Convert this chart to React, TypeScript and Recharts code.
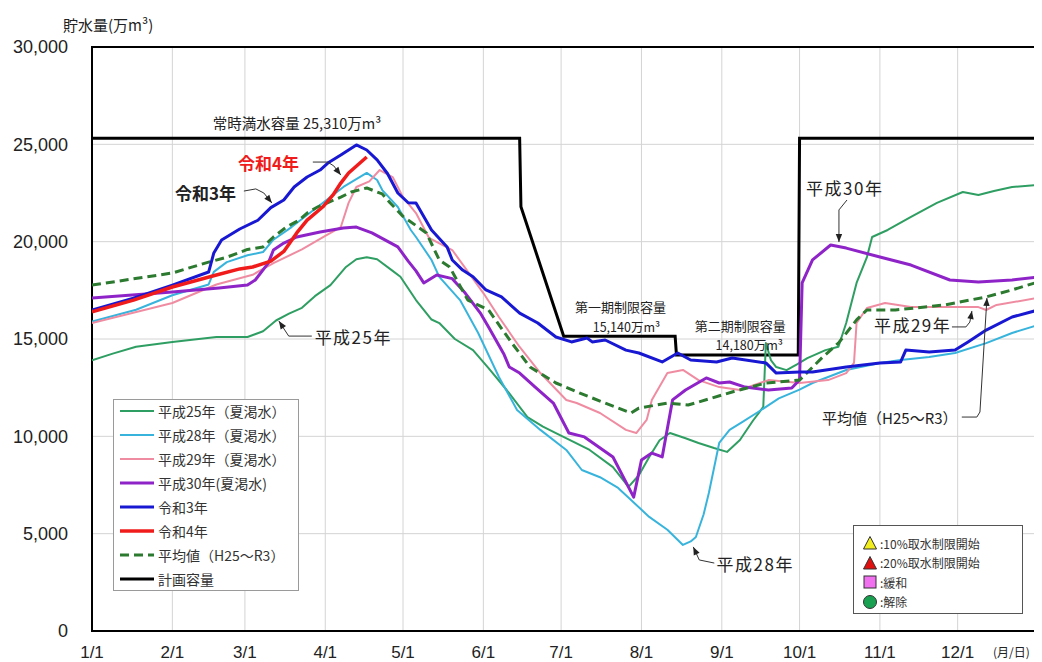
import React from 'react';
import { LineChart, Line, XAxis, YAxis, CartesianGrid, ReferenceArea, ReferenceDot } from 'recharts';

type Pt = [number, number];

// x = day of year (0 = 1/1), y = 貯水量 (万m3)
const monthTicks = [0, 31, 59, 90, 120, 151, 181, 212, 243, 273, 304, 334];
const monthLabels = ['1/1', '2/1', '3/1', '4/1', '5/1', '6/1', '7/1', '8/1', '9/1', '10/1', '11/1', '12/1'];
const valueTicks = [0, 5000, 10000, 15000, 20000, 25000, 30000];

const h25: Pt[] = [
  [0, 13900], [8, 14250], [17, 14600], [31, 14850], [48, 15100], [60, 15100], [66, 15400], [71, 15950],
  [76, 16300], [81, 16600], [86, 17200], [92, 17770], [98, 18700], [102, 19100], [106, 19200], [110, 19100],
  [116, 18500], [119, 18200], [125, 17000], [131, 16000], [134, 15820], [140, 15000], [147, 14430], [153, 13500],
  [160, 12380], [168, 10990], [174, 10500], [179, 10170], [186, 9700], [192, 9300], [201, 8420], [207, 7400],
  [211, 8000], [215, 8940], [219, 9800], [223, 10170], [229, 9900], [234, 9660], [240, 9400], [245, 9200],
  [250, 9810], [255, 10800], [259, 11510], [260, 14790], [262, 13900], [264, 13560], [268, 13400], [272, 13700],
  [276, 14020], [283, 14430], [288, 14600], [291, 15820], [295, 17880], [299, 19210], [301, 20240], [307, 20600],
  [316, 21270], [326, 21990], [336, 22550], [342, 22400], [348, 22600], [355, 22810], [365, 22910],
];

const h28: Pt[] = [
  [0, 15900], [17, 16500], [31, 17250], [45, 17800], [47, 18450], [52, 18950], [60, 19300], [66, 19470],
  [70, 20100], [77, 20750], [87, 21780], [97, 22810], [106, 23530], [110, 23170], [112, 22650], [118, 21780],
  [123, 20600], [125, 20240], [131, 19060], [134, 18190], [142, 17000], [149, 15310], [157, 13050], [164, 11350],
  [173, 10330], [183, 9300], [189, 8270], [196, 7900], [203, 7350], [215, 5860], [222, 5200], [228, 4420],
  [231, 4600], [233, 4830], [236, 6000], [238, 7090], [242, 9660], [246, 10330], [251, 10740], [257, 11250],
  [265, 11950], [273, 12400], [278, 12740], [291, 13410], [304, 13770], [312, 13920], [323, 14080], [333, 14280],
  [345, 14790], [355, 15310], [365, 15720],
];

const h29: Pt[] = [
  [0, 15820], [31, 16850], [48, 17800], [62, 18300], [70, 18900], [81, 19600], [90, 20300], [96, 20750],
  [99, 21990], [102, 22810], [107, 23100], [111, 23680], [116, 23320], [120, 22290], [125, 21470], [130, 20200],
  [139, 19570], [151, 17360], [157, 16130], [165, 14590], [173, 13250], [183, 11870], [187, 11710], [196, 11200],
  [206, 10330], [210, 10170], [214, 10840], [216, 11870], [222, 13250], [228, 13410], [234, 12890], [242, 12530],
  [250, 12380], [261, 12890], [273, 12740], [284, 12890], [291, 13250], [294, 13770], [295, 15820], [299, 16590],
  [306, 16850], [316, 16640], [342, 16640], [345, 16490], [349, 16750], [365, 17110],
];

const h30: Pt[] = [
  [0, 17110], [31, 17420], [49, 17620], [60, 17770], [63, 18030], [68, 18900], [70, 19570], [74, 19930],
  [79, 20240], [88, 20500], [97, 20700], [102, 20750], [108, 20450], [113, 20090], [118, 19730], [122, 19000],
  [125, 18500], [128, 17880], [133, 18290], [139, 18100], [144, 17360], [150, 16300], [153, 15620], [159, 14200],
  [161, 13560], [165, 13250], [171, 12530], [178, 11710], [184, 10170], [190, 9970], [201, 8940], [209, 6880],
  [212, 8780], [216, 9140], [220, 8940], [224, 11870], [229, 12380], [237, 13000], [242, 12740], [246, 12790],
  [252, 12530], [261, 12380], [270, 12480], [273, 12890], [274, 17880], [278, 19060], [285, 19830], [291, 19670],
  [304, 19210], [316, 18800], [331, 18030], [342, 17930], [355, 18030], [365, 18180],
];

const r3: Pt[] = [
  [0, 16490], [16, 17100], [31, 17770], [45, 18440], [47, 19420], [50, 20090], [57, 20650], [64, 21100],
  [69, 21750], [74, 22140], [78, 22810], [83, 23320], [88, 23680], [91, 24040], [96, 24450], [102, 24970],
  [106, 24710], [110, 24200], [114, 23500], [118, 22500], [122, 22000], [125, 21990], [131, 20600], [137, 19730],
  [139, 19060], [143, 18540], [147, 18200], [152, 17520], [158, 17160], [165, 16330], [172, 15820], [179, 15100],
  [185, 14850], [191, 15050], [193, 14850], [198, 14950], [206, 14430], [211, 14280], [220, 13820], [226, 14280],
  [231, 13920], [241, 13820], [247, 14020], [260, 13770], [264, 13250], [273, 13300], [278, 13300], [291, 13560],
  [304, 13770], [312, 13820], [314, 14430], [323, 14330], [333, 14430], [338, 14850], [345, 15460], [355, 16130],
  [365, 16490],
];

const r4: Pt[] = [
  [0, 16400], [16, 17000], [31, 17670], [48, 18290], [57, 18600], [62, 18700], [69, 19000], [74, 19500],
  [79, 20450], [83, 21110], [89, 21780], [93, 22400], [96, 23010], [99, 23530], [106, 24350],
];

const avg: Pt[] = [
  [0, 17770], [31, 18390], [45, 18950], [52, 19200], [60, 19600], [66, 19730], [70, 20240], [75, 20750],
  [80, 21110], [83, 21470], [87, 21780], [96, 22290], [100, 22550], [106, 22760], [112, 22450], [115, 22000],
  [120, 21300], [129, 20450], [134, 19060], [138, 18700], [145, 17000], [153, 16490], [162, 14790], [169, 13560],
  [179, 12740], [188, 12230], [198, 11710], [208, 11200], [211, 11450], [222, 11710], [230, 11610], [234, 11760],
  [247, 12280], [260, 12740], [273, 12890], [282, 14080], [288, 14790], [295, 15980], [299, 16490], [310, 16490],
  [329, 16750], [345, 17160], [355, 17520], [365, 17930],
];

const plan: Pt[] = [
  [0, 25310], [165, 25310], [165.5, 21800], [182, 15140], [225, 15140], [225.5, 14180], [272.5, 14180],
  [273, 25310], [365, 25310],
];

const series = [
  { name: '平成25年（夏渇水）', data: h25, color: '#2f9e62', width: 2 },
  { name: '平成28年（夏渇水）', data: h28, color: '#38b4dc', width: 2 },
  { name: '平成29年（夏渇水）', data: h29, color: '#f08ca2', width: 2 },
  { name: '平成30年(夏渇水)', data: h30, color: '#8e24c8', width: 3 },
  { name: '平均値（H25～R3）', data: avg, color: '#2c7a30', width: 3, dash: '9 5' },
  { name: '令和3年', data: r3, color: '#1818d2', width: 3 },
  { name: '令和4年', data: r4, color: '#f01c1c', width: 3.5 },
];
const legendOrder = ['平成25年（夏渇水）', '平成28年（夏渇水）', '平成29年（夏渇水）', '平成30年(夏渇水)', '令和3年', '令和4年', '平均値（H25～R3）'];

// annotation texts, anchored at data coordinates
const notes = [
  { day: 46.6, v: 26100, text: '常時満水容量 25,310万m³', size: 14.5, anchor: 'start' },
  { day: 203.9, v: 16650, text: '第一期制限容量', size: 13, anchor: 'middle' },
  { day: 206.2, v: 15640, text: '15,140万m³', size: 12.5, anchor: 'middle' },
  { day: 250.1, v: 15700, text: '第二期制限容量', size: 13, anchor: 'middle' },
  { day: 253.6, v: 14700, text: '14,180万m³', size: 12.5, anchor: 'middle' },
  { day: 56.3, v: 24090, text: '令和4年', size: 17, anchor: 'start', color: '#f01c1c', bold: true },
  { day: 32, v: 22550, text: '令和3年', size: 17, anchor: 'start', bold: true },
  { day: 85.9, v: 15150, text: '平成25年', size: 17, anchor: 'start' },
  { day: 241, v: 3490, text: '平成28年', size: 17, anchor: 'start' },
  { day: 275.5, v: 22760, text: '平成30年', size: 17, anchor: 'start' },
  { day: 301.7, v: 15720, text: '平成29年', size: 17, anchor: 'start' },
  { day: 281.7, v: 10990, text: '平均値（H25～R3）', size: 15, anchor: 'start' },
];

const leaders: { pts: Pt[]; angle: number }[] = [
  { pts: [[85.2, 24090], [90.9, 24090], [93.3, 23890], [96, 23420]], angle: 52 },
  { pts: [[58.6, 22600], [63.2, 22710], [66.3, 22500], [69.4, 21990]], angle: 51 },
  { pts: [[84.8, 15150], [75.9, 15150], [72.1, 15920]], angle: -124 },
  { pts: [[240.1, 3490], [234.3, 3650], [232, 4320]], angle: -115 },
  { pts: [[291.3, 22140], [288.2, 21630], [288.2, 19980]], angle: 90 },
  { pts: [[331.8, 15620], [337.2, 15620], [338.7, 15870], [339.5, 16440]], angle: -80 },
  { pts: [[335.6, 10990], [341.4, 10990], [342.6, 11250], [345.3, 17110]], angle: -86.5 },
];

const markerItems = [
  { kind: 'tri', fill: '#f2ee1e', text: ':10%取水制限開始' },
  { kind: 'tri', fill: '#e01010', text: ':20%取水制限開始' },
  { kind: 'sq', fill: '#f070f0', text: ':緩和' },
  { kind: 'dot', fill: '#19a050', text: ':解除' },
];

const JP = '"Noto Sans CJK JP", "Noto Sans", sans-serif';
const NUM = '"Liberation Sans", Arial, sans-serif';

const rows = (pts: Pt[]) => pts.map(([day, v]) => ({ day, v }));

const arrowShape = (angle: number) => (p: any) => (
  <path d="M0,0 L-8,-3.2 L-8,3.2 Z" fill="#222" transform={`translate(${p.cx},${p.cy}) rotate(${angle})`} />
);

const noteShape = (n: typeof notes[number]) => (p: any) => (
  <text
    x={p.cx}
    y={p.cy}
    dominantBaseline="central"
    textAnchor={n.anchor as any}
    fontFamily={JP}
    fontSize={n.size}
    fontWeight={n.bold ? 700 : 400}
    fill={n.color || '#222'}
    letterSpacing={n.size >= 17 && !n.bold ? 1.5 : 0}
  >
    {n.text}
  </text>
);

const LegendBox = () => (
  <div style={{ position: 'absolute', left: 105, top: 391, width: 186, height: 192, background: '#fff', border: '1px solid #9a9a9a', boxSizing: 'border-box', fontFamily: JP, fontSize: 14, color: '#333' }}>
    {[...legendOrder.map((n) => series.find((s) => s.name === n)!), { name: '計画容量', color: '#000', width: 3, dash: undefined as any }].map((s, i) => (
      <div key={s.name} style={{ position: 'absolute', left: 6, top: i * 24 + 1, height: 20, display: 'flex', alignItems: 'center', whiteSpace: 'nowrap' }}>
        <svg width={34} height={6}>
          <line x1={0} x2={34} y1={3} y2={3} stroke={s.color} strokeWidth={s.width} strokeDasharray={(s as any).dash} />
        </svg>
        <span style={{ marginLeft: 4 }}>{s.name}</span>
      </div>
    ))}
  </div>
);

const MarkerBox = () => (
  <div style={{ position: 'absolute', left: 845, top: 517, width: 170, height: 89, background: '#fff', border: '1.5px solid #555', boxSizing: 'border-box', fontFamily: JP, fontSize: 12, color: '#333' }}>
    {markerItems.map((m, i) => (
      <div key={m.text} style={{ position: 'absolute', left: 8, top: 8 + i * 19.5, height: 18, display: 'flex', alignItems: 'center', whiteSpace: 'nowrap' }}>
        <svg width={16} height={16}>
          {m.kind === 'tri' && <path d="M8,1.5 L14.5,14 L1.5,14 Z" fill={m.fill} stroke="#333" strokeWidth={1} />}
          {m.kind === 'sq' && <rect x={2} y={2} width={12} height={12} fill={m.fill} stroke="#333" strokeWidth={1} />}
          {m.kind === 'dot' && <circle cx={8} cy={8} r={6.5} fill={m.fill} stroke="#333" strokeWidth={1} />}
        </svg>
        <span style={{ marginLeft: 2 }}>{m.text}</span>
      </div>
    ))}
  </div>
);

export default function App() {
  return (
    <div style={{ position: 'relative', width: 1034, height: 654 }}>
      <LineChart width={1034} height={654} margin={{ top: 39, right: 4, left: 0, bottom: 1 }}>
        <CartesianGrid stroke="#d4d4d4" strokeWidth={1} />
        <XAxis
          dataKey="day"
          type="number"
          domain={[0, 365]}
          ticks={monthTicks}
          tickFormatter={(d: number) => monthLabels[monthTicks.indexOf(d)]}
          tickLine={false}
          axisLine={false}
          tickSize={0}
          tickMargin={15}
          allowDataOverflow
          tick={{ fontFamily: NUM, fontSize: 17, fill: '#222' }}
        />
        <YAxis
          type="number"
          domain={[0, 30000]}
          ticks={valueTicks}
          width={84}
          tickFormatter={(v: number) => v.toLocaleString('en-US')}
          tickLine={false}
          axisLine={false}
          tickSize={0}
          tickMargin={24}
          tick={{ fontFamily: NUM, fontSize: 18, fill: '#222' }}
        />
        <ReferenceArea x1={0} x2={365} y1={0} y2={30000} fill="none" fillOpacity={0} stroke="#000" strokeWidth={2} ifOverflow="visible" />
        <Line data={rows(plan)} dataKey="v" type="linear" stroke="#000" strokeWidth={3} dot={false} activeDot={false} isAnimationActive={false} />
        {series.map((s) => (
          <Line
            key={s.name}
            data={rows(s.data)}
            dataKey="v"
            name={s.name}
            type="linear"
            stroke={s.color}
            strokeWidth={s.width}
            strokeDasharray={s.dash}
            strokeLinejoin="round"
            dot={false}
            activeDot={false}
            isAnimationActive={false}
          />
        ))}
        {leaders.map((l, i) => (
          <Line key={'ld' + i} data={rows(l.pts)} dataKey="v" type="linear" stroke="#333" strokeWidth={1} dot={false} activeDot={false} isAnimationActive={false} />
        ))}
        {leaders.map((l, i) => {
          const tip = l.pts[l.pts.length - 1];
          return <ReferenceDot key={'ar' + i} x={tip[0]} y={tip[1]} r={0} shape={arrowShape(l.angle)} />;
        })}
        {notes.map((n) => (
          <ReferenceDot key={n.text} x={n.day} y={n.v} r={0} shape={noteShape(n)} />
        ))}
      </LineChart>
      <div style={{ position: 'absolute', left: 55, top: 6, fontFamily: JP, fontSize: 15, color: '#222', whiteSpace: 'nowrap' }}>
        貯水量(万m³)
      </div>
      <div style={{ position: 'absolute', left: 985, top: 635, fontFamily: JP, fontSize: 12, color: '#222', whiteSpace: 'nowrap' }}>
        (月/日)
      </div>
      <LegendBox />
      <MarkerBox />
    </div>
  );
}
